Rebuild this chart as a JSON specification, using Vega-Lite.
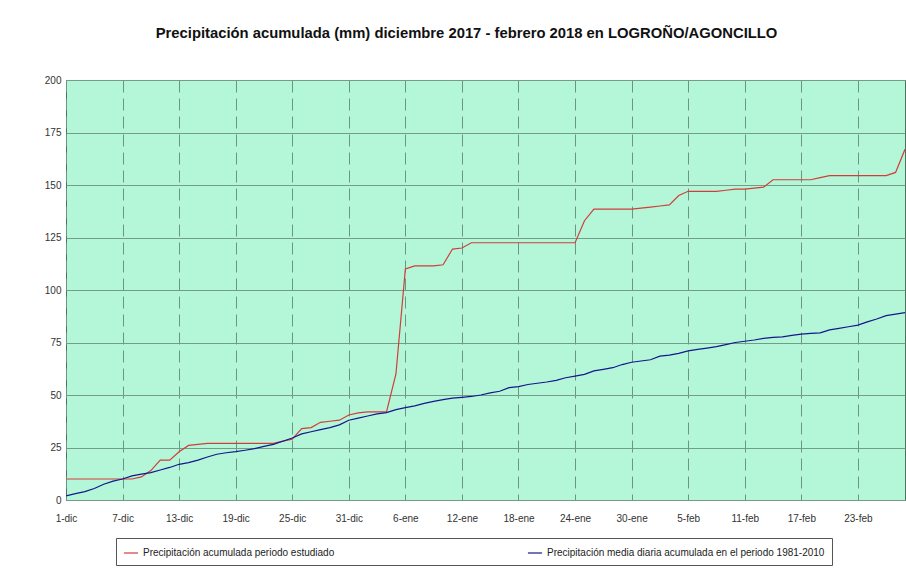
{
  "$schema": "https://vega.github.io/schema/vega-lite/v6.json",
  "autosize": {"type": "none"},
  "padding": {"left": 66, "top": 80, "right": 1, "bottom": 69},
  "width": 839,
  "height": 420,
  "background": "white",
  "title": {
    "text": "Precipitación acumulada (mm) diciembre 2017 - febrero 2018 en LOGROÑO/AGONCILLO",
    "font": "Liberation Sans",
    "fontSize": 14.8,
    "fontWeight": "bold",
    "color": "#111111",
    "anchor": "middle",
    "dx": -19,
    "offset": 34
  },
  "data": {
    "values": [
      {"fecha": "2017-12-01", "estudiado": 10, "media": 2},
      {"fecha": "2017-12-02", "estudiado": 10, "media": 3},
      {"fecha": "2017-12-03", "estudiado": 10, "media": 4},
      {"fecha": "2017-12-04", "estudiado": 10, "media": 5.5},
      {"fecha": "2017-12-05", "estudiado": 10, "media": 7.5},
      {"fecha": "2017-12-06", "estudiado": 10, "media": 9},
      {"fecha": "2017-12-07", "estudiado": 10, "media": 10},
      {"fecha": "2017-12-08", "estudiado": 10, "media": 11.5},
      {"fecha": "2017-12-09", "estudiado": 11, "media": 12.3},
      {"fecha": "2017-12-10", "estudiado": 14, "media": 13},
      {"fecha": "2017-12-11", "estudiado": 19, "media": 14.3},
      {"fecha": "2017-12-12", "estudiado": 19, "media": 15.5},
      {"fecha": "2017-12-13", "estudiado": 23, "media": 17},
      {"fecha": "2017-12-14", "estudiado": 26, "media": 17.8},
      {"fecha": "2017-12-15", "estudiado": 26.5, "media": 19},
      {"fecha": "2017-12-16", "estudiado": 27, "media": 20.5},
      {"fecha": "2017-12-17", "estudiado": 27, "media": 21.8},
      {"fecha": "2017-12-18", "estudiado": 27, "media": 22.5},
      {"fecha": "2017-12-19", "estudiado": 27, "media": 23},
      {"fecha": "2017-12-20", "estudiado": 27, "media": 23.7},
      {"fecha": "2017-12-21", "estudiado": 27, "media": 24.5},
      {"fecha": "2017-12-22", "estudiado": 27, "media": 25.5},
      {"fecha": "2017-12-23", "estudiado": 27, "media": 26.5},
      {"fecha": "2017-12-24", "estudiado": 28, "media": 28},
      {"fecha": "2017-12-25", "estudiado": 29, "media": 29.5},
      {"fecha": "2017-12-26", "estudiado": 34, "media": 31.5},
      {"fecha": "2017-12-27", "estudiado": 34.5, "media": 32.5},
      {"fecha": "2017-12-28", "estudiado": 37, "media": 33.5},
      {"fecha": "2017-12-29", "estudiado": 37.5, "media": 34.5},
      {"fecha": "2017-12-30", "estudiado": 38, "media": 35.8},
      {"fecha": "2017-12-31", "estudiado": 40.5, "media": 38},
      {"fecha": "2018-01-01", "estudiado": 41.5, "media": 39},
      {"fecha": "2018-01-02", "estudiado": 42, "media": 40},
      {"fecha": "2018-01-03", "estudiado": 42, "media": 41},
      {"fecha": "2018-01-04", "estudiado": 42, "media": 41.6},
      {"fecha": "2018-01-05", "estudiado": 60, "media": 43},
      {"fecha": "2018-01-06", "estudiado": 110, "media": 44},
      {"fecha": "2018-01-07", "estudiado": 111.5, "media": 44.8},
      {"fecha": "2018-01-08", "estudiado": 111.5, "media": 46},
      {"fecha": "2018-01-09", "estudiado": 111.5, "media": 47},
      {"fecha": "2018-01-10", "estudiado": 112, "media": 47.8},
      {"fecha": "2018-01-11", "estudiado": 119.5, "media": 48.5},
      {"fecha": "2018-01-12", "estudiado": 120, "media": 48.9},
      {"fecha": "2018-01-13", "estudiado": 122.5, "media": 49.3},
      {"fecha": "2018-01-14", "estudiado": 122.5, "media": 50},
      {"fecha": "2018-01-15", "estudiado": 122.5, "media": 51},
      {"fecha": "2018-01-16", "estudiado": 122.5, "media": 51.8},
      {"fecha": "2018-01-17", "estudiado": 122.5, "media": 53.5},
      {"fecha": "2018-01-18", "estudiado": 122.5, "media": 54},
      {"fecha": "2018-01-19", "estudiado": 122.5, "media": 55},
      {"fecha": "2018-01-20", "estudiado": 122.5, "media": 55.6},
      {"fecha": "2018-01-21", "estudiado": 122.5, "media": 56.2},
      {"fecha": "2018-01-22", "estudiado": 122.5, "media": 57},
      {"fecha": "2018-01-23", "estudiado": 122.5, "media": 58.2},
      {"fecha": "2018-01-24", "estudiado": 122.5, "media": 59},
      {"fecha": "2018-01-25", "estudiado": 133, "media": 59.8},
      {"fecha": "2018-01-26", "estudiado": 138.5, "media": 61.5},
      {"fecha": "2018-01-27", "estudiado": 138.5, "media": 62.2},
      {"fecha": "2018-01-28", "estudiado": 138.5, "media": 63},
      {"fecha": "2018-01-29", "estudiado": 138.5, "media": 64.5},
      {"fecha": "2018-01-30", "estudiado": 138.5, "media": 65.6},
      {"fecha": "2018-01-31", "estudiado": 139, "media": 66.2},
      {"fecha": "2018-02-01", "estudiado": 139.5, "media": 66.8},
      {"fecha": "2018-02-02", "estudiado": 140, "media": 68.5},
      {"fecha": "2018-02-03", "estudiado": 140.5, "media": 69},
      {"fecha": "2018-02-04", "estudiado": 145, "media": 69.8},
      {"fecha": "2018-02-05", "estudiado": 147, "media": 71},
      {"fecha": "2018-02-06", "estudiado": 147, "media": 71.7},
      {"fecha": "2018-02-07", "estudiado": 147, "media": 72.3},
      {"fecha": "2018-02-08", "estudiado": 147, "media": 73},
      {"fecha": "2018-02-09", "estudiado": 147.5, "media": 74},
      {"fecha": "2018-02-10", "estudiado": 148, "media": 75},
      {"fecha": "2018-02-11", "estudiado": 148, "media": 75.6},
      {"fecha": "2018-02-12", "estudiado": 148.5, "media": 76.2},
      {"fecha": "2018-02-13", "estudiado": 149, "media": 77},
      {"fecha": "2018-02-14", "estudiado": 152.5, "media": 77.4},
      {"fecha": "2018-02-15", "estudiado": 152.5, "media": 77.7},
      {"fecha": "2018-02-16", "estudiado": 152.5, "media": 78.4},
      {"fecha": "2018-02-17", "estudiado": 152.5, "media": 79},
      {"fecha": "2018-02-18", "estudiado": 152.5, "media": 79.3},
      {"fecha": "2018-02-19", "estudiado": 153.5, "media": 79.6},
      {"fecha": "2018-02-20", "estudiado": 154.5, "media": 81},
      {"fecha": "2018-02-21", "estudiado": 154.5, "media": 81.7},
      {"fecha": "2018-02-22", "estudiado": 154.5, "media": 82.5},
      {"fecha": "2018-02-23", "estudiado": 154.5, "media": 83.3},
      {"fecha": "2018-02-24", "estudiado": 154.5, "media": 84.8},
      {"fecha": "2018-02-25", "estudiado": 154.5, "media": 86.2},
      {"fecha": "2018-02-26", "estudiado": 154.5, "media": 87.8},
      {"fecha": "2018-02-27", "estudiado": 156, "media": 88.5},
      {"fecha": "2018-02-28", "estudiado": 167, "media": 89.2}
    ]
  },
  "transform": [
    {"fold": ["estudiado", "media"], "as": ["serie", "valor"]}
  ],
  "mark": {"type": "line", "strokeWidth": 1.2, "interpolate": "linear", "clip": true},
  "encoding": {
    "x": {
      "field": "fecha",
      "type": "temporal",
      "scale": {
        "type": "utc",
        "domain": [
          {"year": 2017, "month": 12, "date": 1, "utc": true},
          {"year": 2018, "month": 2, "date": 28, "utc": true}
        ],
        "nice": false
      },
      "axis": {
        "title": null,
        "values": [
          {"year": 2017, "month": 12, "date": 1, "utc": true},
          {"year": 2017, "month": 12, "date": 7, "utc": true},
          {"year": 2017, "month": 12, "date": 13, "utc": true},
          {"year": 2017, "month": 12, "date": 19, "utc": true},
          {"year": 2017, "month": 12, "date": 25, "utc": true},
          {"year": 2017, "month": 12, "date": 31, "utc": true},
          {"year": 2018, "month": 1, "date": 6, "utc": true},
          {"year": 2018, "month": 1, "date": 12, "utc": true},
          {"year": 2018, "month": 1, "date": 18, "utc": true},
          {"year": 2018, "month": 1, "date": 24, "utc": true},
          {"year": 2018, "month": 1, "date": 30, "utc": true},
          {"year": 2018, "month": 2, "date": 5, "utc": true},
          {"year": 2018, "month": 2, "date": 11, "utc": true},
          {"year": 2018, "month": 2, "date": 17, "utc": true},
          {"year": 2018, "month": 2, "date": 23, "utc": true}
        ],
        "labelExpr": "utcdate(datum.value) + '-' + ['ene','feb','mar','abr','may','jun','jul','ago','sep','oct','nov','dic'][utcmonth(datum.value)]",
        "grid": true,
        "gridDash": [12, 6],
        "gridColor": "#6c9682",
        "gridOpacity": 1,
        "gridWidth": 1,
        "domain": false,
        "ticks": false,
        "labelPadding": 13,
        "labelFont": "Liberation Sans",
        "labelFontSize": 10,
        "labelColor": "#333333",
        "labelFlush": false,
        "labelOverlap": false
      }
    },
    "y": {
      "field": "valor",
      "type": "quantitative",
      "scale": {"domain": [0, 200], "nice": false},
      "axis": {
        "title": null,
        "values": [0, 25, 50, 75, 100, 125, 150, 175, 200],
        "grid": true,
        "gridColor": "#739d88",
        "gridOpacity": 1,
        "gridWidth": 1,
        "domain": false,
        "ticks": false,
        "labelPadding": 5,
        "labelFont": "Liberation Sans",
        "labelFontSize": 10,
        "labelColor": "#333333",
        "labelFlush": false,
        "labelOverlap": false
      }
    },
    "color": {
      "field": "serie",
      "type": "nominal",
      "scale": {"domain": ["estudiado", "media"], "range": ["#d23c3c", "#16168c"]},
      "legend": {
        "title": null,
        "orient": "none",
        "legendX": 50,
        "legendY": 458,
        "direction": "horizontal",
        "columns": 2,
        "columnPadding": 190,
        "labelExpr": "datum.label == 'estudiado' ? 'Precipitación acumulada periodo estudiado' : 'Precipitación media diaria acumulada en el periodo 1981-2010'",
        "labelFont": "Liberation Sans",
        "labelFontSize": 10,
        "labelColor": "#222222",
        "labelLimit": 400,
        "symbolType": "stroke",
        "symbolSize": 200,
        "symbolStrokeWidth": 1.2,
        "labelOffset": 4,
        "padding": 7,
        "fillColor": "white",
        "strokeColor": "#555555"
      }
    }
  },
  "config": {
    "view": {"fill": "#b4f7d8", "stroke": "#4f6f60", "strokeWidth": 1}
  }
}
